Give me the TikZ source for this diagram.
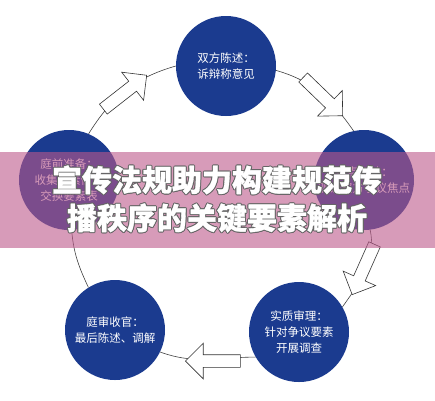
\documentclass[tikz,border=0pt]{standalone}
\usepackage{fontspec}
\usepackage{tikz}
\usepackage{xcolor}
\usetikzlibrary{
    shapes.arrows,
    positioning
}
\setmainfont{Noto Sans CJK SC}
\newfontfamily\titlefont[FakeBold=1]{Noto Sans CJK SC}
\definecolor{stageblue}{RGB}{27,59,143}
\definecolor{bandpink}{RGB}{188,88,138}
\tikzset{
    stage/.style={circle, fill=stageblue, text=white, minimum size=100pt, inner sep=0pt,
        align=center, font=\fontsize{11.5}{16}\selectfont},
    flow/.style={draw=black!75, line width=0.6pt},
    blockarrow/.style={single arrow, draw=black!80, fill=white, line width=0.6pt,
        minimum height=55pt, single arrow head extend=11.5pt, inner xsep=0pt,
        inner ysep=6pt, text height=0pt, text depth=0pt, anchor=tip},
    titletext/.style={align=center, font=\titlefont\bfseries\fontsize{30}{38}\selectfont}
}

\begin{document}
\begin{tikzpicture}[x=1pt, y=1pt]
                        \useasboundingbox (0, 0) rectangle (435, -400);
                        \node[stage] (debate) at (226, -66) {双方陈述：\\诉辩称意见};
                        \node[stage] (focus) at (364, -180) {争点归纳：\\明确双方争议焦点};
                        \node[stage] (trial) at (299, -332) {实质审理：\\针对争议要素\\开展调查};
                        \node[stage] (closing) at (115, -330) {庭审收官：\\最后陈述、调解};
                        \node[stage] (prep) at (69, -180) {庭前准备：\\收集要素信息\\交换要素表};
                        \draw[flow] (prep.67) to[out=58, in=196] (debate.180);
                        \draw[flow] (debate.-5) to[out=-16, in=125] (focus.102);
                        \draw[flow] (focus.-83) to[out=-78, in=55] (trial.30);
                        \draw[flow] (trial.210) to[out=180, in=-20] (closing.-26);
                        \draw[flow] (closing.122) to[out=115, in=-85] (prep.-87);
                        \node[blockarrow, rotate=38] (arrowa) at (147, -75) {};
                        \node[blockarrow, rotate=-44] (arrowb) at (343, -116) {};
                        \node[blockarrow, rotate=-114] (arrowc) at (352, -295) {};
                        \node[blockarrow, rotate=180] (arrowd) at (185, -361) {};
                        \fill[bandpink, opacity=0.6] (0, -152) rectangle (435, -248);
                        \foreach \a in {0,45,...,315} {
                            \node[titletext, text=black!60, shift={(\a:1pt)}] (halo\a) at (217, -199)
                                {宣传法规助力构建规范传\\播秩序的关键要素解析};
                        }
                        \node[titletext, text=white] (title) at (217, -199)
                            {宣传法规助力构建规范传\\播秩序的关键要素解析};
                    \end{tikzpicture}
\end{document}
